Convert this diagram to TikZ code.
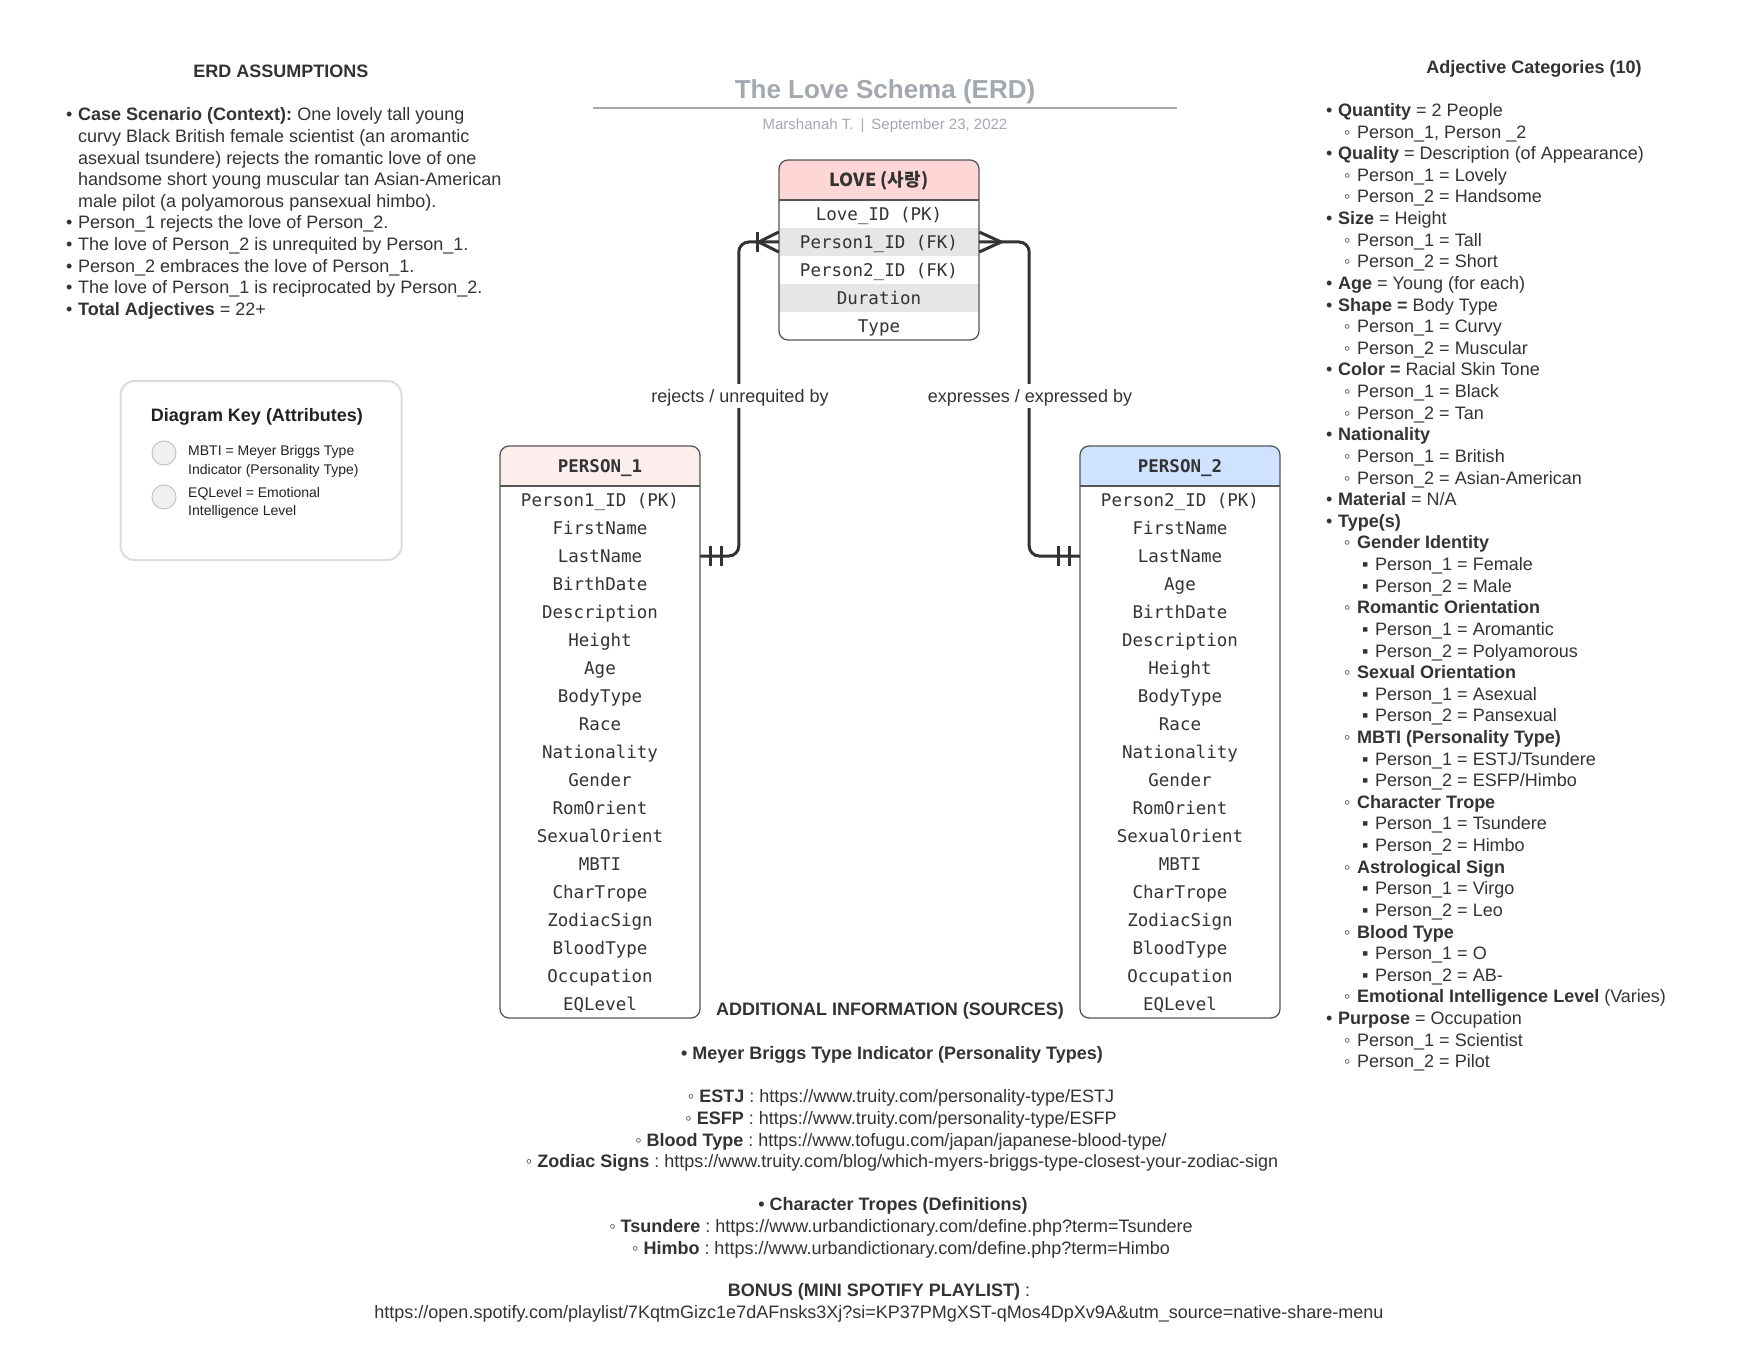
\documentclass[tikz,border=0pt]{standalone}
\usepackage{fontspec}
\setmainfont{Liberation Sans}
\newfontfamily\monof{DejaVu Sans Mono}
\newfontfamily\cjkf{Noto Sans CJK KR}
\usetikzlibrary{calc}
\definecolor{textc}{HTML}{333333}
\definecolor{keytextc}{HTML}{222222}
\definecolor{titlec}{HTML}{A3A8B1}
\definecolor{linec}{HTML}{333333}
\definecolor{borderc}{HTML}{555555}
\definecolor{lovehead}{HTML}{FFD6D6}
\definecolor{ponehead}{HTML}{FDEEEE}
\definecolor{ptwohead}{HTML}{CFE2FF}
\definecolor{rowgray}{HTML}{E6E6E6}
\definecolor{keyborder}{HTML}{DCDCDC}
\definecolor{keycircle}{HTML}{F0F0F2}
\definecolor{keycircleb}{HTML}{C4C4C4}
\newcommand\bulA{\makebox[12pt][l]{•}}
\newcommand\bulB{\makebox[13pt][l]{◦}}
\newcommand\bulC{\makebox[13pt][l]{▪}}
\frenchspacing
\begin{document}
\frenchspacing
\begin{tikzpicture}[x=1pt,y=-1pt,
  txt/.style={inner sep=0pt, anchor=base west, text=textc, font=\frenchspacing\fontsize{18}{21.7}\selectfont},
  ctxt/.style={txt, anchor=base},
  keytxt/.style={inner sep=0pt, anchor=base west, text=keytextc, font=\fontsize{14}{17}\selectfont},
  rowtxt/.style={inner sep=0pt, minimum width=200pt, minimum height=28pt, text height=12.8pt, text depth=0pt, text=textc, font=\monof\fontsize{17.5}{20}\selectfont},
  headtxt/.style={inner sep=0pt, text height=12.8pt, text depth=0pt, text=textc, font=\monof\bfseries\fontsize{17.5}{20}\selectfont},
  tabborder/.style={draw=borderc, line width=1.3pt},
  conn/.style={draw=linec, line width=3pt, rounded corners=10pt},
  tip/.style={draw=linec, line width=3pt, line cap=butt},
  rellabel/.style={fill=white, inner xsep=3pt, inner ysep=6pt, text height=12.9pt, text depth=0pt, text=textc, font=\fontsize{18}{21.7}\selectfont}
]
\fill[white] (0,0) rectangle (1759,1359);
\useasboundingbox (0,0) rectangle (1759,1359);

% ---------- title ----------
\node[ctxt, text=titlec, font=\bfseries\fontsize{26}{30}\selectfont] (title) at (885,99) {The Love Schema (ERD)};
\draw[draw=titlec, line width=2pt] (593,108) -- (1177,108);
\node[ctxt, text=titlec, font=\frenchspacing\fontsize{15}{18}\selectfont] (subtitle) at (885,129.5) {Marshanah T.\hspace{7pt}|\hspace{7pt}September 23, 2022};

% ---------- ERD assumptions ----------
\node[ctxt, font=\bfseries\fontsize{18}{21.7}\selectfont] (asshead) at (281,78) {ERD ASSUMPTIONS};
\node[txt] (a1) at (66,121) {\bulA\textbf{Case Scenario (Context):} One lovely tall young};
\node[txt] (a2) at (78,142.6) {curvy Black British female scientist (an aromantic};
\node[txt] (a3) at (78,164.2) {asexual tsundere) rejects the romantic love of one};
\node[txt] (a4) at (78,185.8) {handsome short young muscular tan Asian-American};
\node[txt] (a5) at (78,207.4) {male pilot (a polyamorous pansexual himbo).};
\node[txt] (a6) at (66,229) {\bulA Person\_1 rejects the love of Person\_2.};
\node[txt] (a7) at (66,250.6) {\bulA The love of Person\_2 is unrequited by Person\_1.};
\node[txt] (a8) at (66,272.2) {\bulA Person\_2 embraces the love of Person\_1.};
\node[txt] (a9) at (66,293.8) {\bulA The love of Person\_1 is reciprocated by Person\_2.};
\node[txt] (a10) at (66,315.4) {\bulA\textbf{Total Adjectives} = 22+};

% ---------- diagram key ----------
\node[draw=keyborder, line width=2pt, rounded corners=14pt, minimum width=281pt, minimum height=179pt, inner sep=0pt] (keybox) at (261,470.5) {};
\node[ctxt, text=keytextc, font=\bfseries\fontsize{18}{21.7}\selectfont] (keyhead) at (257,421) {Diagram Key (Attributes)};
\node[circle, draw=keycircleb, fill=keycircle, line width=1pt, minimum size=24pt, inner sep=0pt] (kc1) at (164,453) {};
\node[circle, draw=keycircleb, fill=keycircle, line width=1pt, minimum size=24pt, inner sep=0pt] (kc2) at (164,497) {};
\node[keytxt] (k1) at (188,455) {MBTI = Meyer Briggs Type};
\node[keytxt] (k2) at (188,474) {Indicator (Personality Type)};
\node[keytxt] (k3) at (188,497) {EQLevel = Emotional};
\node[keytxt] (k4) at (188,515) {Intelligence Level};

% ---------- LOVE table ----------
\fill[lovehead, rounded corners=9pt] (779,160) rectangle (979,200);
\fill[lovehead] (779,190) rectangle (979,200);
\fill[rowgray] (779,228) rectangle (979,256);
\fill[rowgray] (779,284) rectangle (979,312);
\draw[tabborder] (779,200) -- (979,200);
\draw[tabborder, rounded corners=9pt] (779,160) rectangle (979,340);
\node[inner sep=0pt, text height=13.2pt, text depth=0pt, text=textc, font=\cjkf\bfseries\fontsize{18}{20}\selectfont] (loveh) at (879,180) {LOVE (사랑)};
\foreach \t [count=\i] in {Love\_ID (PK), Person1\_ID (FK), Person2\_ID (FK), Duration, Type}
  \node[rowtxt] (love\i) at (879,{186+28*\i}) {\t};

% ---------- PERSON_1 table ----------
\fill[ponehead, rounded corners=9pt] (500,446) rectangle (700,486);
\fill[ponehead] (500,476) rectangle (700,486);
\draw[tabborder] (500,486) -- (700,486);
\draw[tabborder, rounded corners=9pt] (500,446) rectangle (700,1018);
\node[headtxt] (p1h) at (600,466) {PERSON\_1};
\foreach \t [count=\i] in {Person1\_ID (PK), FirstName, LastName, BirthDate, Description, Height, Age, BodyType, Race, Nationality, Gender, RomOrient, SexualOrient, MBTI, CharTrope, ZodiacSign, BloodType, Occupation, EQLevel}
  \node[rowtxt] (p1r\i) at (600,{472+28*\i}) {\t};

% ---------- PERSON_2 table ----------
\fill[ptwohead, rounded corners=9pt] (1080,446) rectangle (1280,486);
\fill[ptwohead] (1080,476) rectangle (1280,486);
\draw[tabborder] (1080,486) -- (1280,486);
\draw[tabborder, rounded corners=9pt] (1080,446) rectangle (1280,1018);
\node[headtxt] (p2h) at (1180,466) {PERSON\_2};
\foreach \t [count=\i] in {Person2\_ID (PK), FirstName, LastName, Age, BirthDate, Description, Height, BodyType, Race, Nationality, Gender, RomOrient, SexualOrient, MBTI, CharTrope, ZodiacSign, BloodType, Occupation, EQLevel}
  \node[rowtxt] (p2r\i) at (1180,{472+28*\i}) {\t};

% ---------- connectors ----------
\draw[conn] (love2.west) -- ++(-40,0) |- (p1r3.east);
\draw[conn] (love2.east) -- ++(50,0) |- (p2r3.west);
% one-or-many at LOVE (left)
\draw[tip] ($(love2.west)+(0,-10)$) -- ($(love2.west)+(-20,0)$) -- ($(love2.west)+(0,10)$);
\draw[tip] ($(love2.west)+(-21,-10)$) -- ($(love2.west)+(-21,10)$);
% many at LOVE (right)
\draw[tip] ($(love2.east)+(0,-10)$) -- ($(love2.east)+(22,0)$) -- ($(love2.east)+(0,10)$);
% one-and-only-one at PERSON_1
\draw[tip] ($(p1r3.east)+(10,-10)$) -- ($(p1r3.east)+(10,10)$);
\draw[tip] ($(p1r3.east)+(21,-10)$) -- ($(p1r3.east)+(21,10)$);
% one-and-only-one at PERSON_2
\draw[tip] ($(p2r3.west)+(-10,-10)$) -- ($(p2r3.west)+(-10,10)$);
\draw[tip] ($(p2r3.west)+(-21,-10)$) -- ($(p2r3.west)+(-21,10)$);
\node[rellabel] (rel1) at (740,396) {rejects / unrequited by};
\node[rellabel] (rel2) at (1030,396) {expresses / expressed by};

% ---------- Adjective categories ----------
\node[ctxt, font=\bfseries\fontsize{18}{21.7}\selectfont] (adjhead) at (1534,73.5) {Adjective Categories (10)};
\foreach \lev/\t [count=\i] in {
  1/{\textbf{Quantity} = 2 People},
  2/{Person\_1, Person \_2},
  1/{\textbf{Quality} = Description (of Appearance)},
  2/{Person\_1 = Lovely},
  2/{Person\_2 = Handsome},
  1/{\textbf{Size} = Height},
  2/{Person\_1 = Tall},
  2/{Person\_2 = Short},
  1/{\textbf{Age} = Young (for each)},
  1/{\textbf{Shape =} Body Type},
  2/{Person\_1 = Curvy},
  2/{Person\_2 = Muscular},
  1/{\textbf{Color =} Racial Skin Tone},
  2/{Person\_1 = Black},
  2/{Person\_2 = Tan},
  1/{\textbf{Nationality}},
  2/{Person\_1 = British},
  2/{Person\_2 = Asian-American},
  1/{\textbf{Material} = N/A},
  1/{\textbf{Type(s)}},
  2/{\textbf{Gender Identity}},
  3/{Person\_1 = Female},
  3/{Person\_2 = Male},
  2/{\textbf{Romantic Orientation}},
  3/{Person\_1 = Aromantic},
  3/{Person\_2 = Polyamorous},
  2/{\textbf{Sexual Orientation}},
  3/{Person\_1 = Asexual},
  3/{Person\_2 = Pansexual},
  2/{\textbf{MBTI (Personality Type)}},
  3/{Person\_1 = ESTJ/Tsundere},
  3/{Person\_2 = ESFP/Himbo},
  2/{\textbf{Character Trope}},
  3/{Person\_1 = Tsundere},
  3/{Person\_2 = Himbo},
  2/{\textbf{Astrological Sign}},
  3/{Person\_1 = Virgo},
  3/{Person\_2 = Leo},
  2/{\textbf{Blood Type}},
  3/{Person\_1 = O},
  3/{Person\_2 = AB-},
  2/{\textbf{Emotional Intelligence Level} (Varies)},
  1/{\textbf{Purpose} = Occupation},
  2/{Person\_1 = Scientist},
  2/{Person\_2 = Pilot}}
  \node[txt] (adj\i) at ({1326+18*(\lev-1)},{116.5+21.62*(\i-1)}) {\ifcase\lev\or\bulA\or\bulB\or\bulC\fi\t};

% ---------- additional information ----------
\node[ctxt, font=\bfseries\fontsize{18}{21.7}\selectfont] (b1) at (890,1015) {ADDITIONAL INFORMATION (SOURCES)};
\node[ctxt, font=\bfseries\fontsize{18}{21.7}\selectfont] (b2) at (892,1059) {• Meyer Briggs Type Indicator (Personality Types)};
\node[ctxt] (b3) at (901,1102) {◦ \textbf{ESTJ} : https://www.truity.com/personality-type/ESTJ};
\node[ctxt] (b4) at (901,1124) {◦ \textbf{ESFP} : https://www.truity.com/personality-type/ESFP};
\node[ctxt] (b5) at (901,1146) {◦ \textbf{Blood Type} : https://www.tofugu.com/japan/japanese-blood-type/};
\node[ctxt] (b6) at (902,1167) {◦ \textbf{Zodiac Signs} : https://www.truity.com/blog/which-myers-briggs-type-closest-your-zodiac-sign};
\node[ctxt, font=\bfseries\fontsize{18}{21.7}\selectfont] (b7) at (893,1210) {• Character Tropes (Definitions)};
\node[ctxt] (b8) at (901,1232) {◦ \textbf{Tsundere} : https://www.urbandictionary.com/define.php?term=Tsundere};
\node[ctxt] (b9) at (901,1254) {◦ \textbf{Himbo} : https://www.urbandictionary.com/define.php?term=Himbo};
\node[ctxt] (b10) at (879,1296) {\textbf{BONUS (MINI SPOTIFY PLAYLIST)} :};
\node[ctxt] (b11) at (879,1318) {https://open.spotify.com/playlist/7KqtmGizc1e7dAFnsks3Xj?si=KP37PMgXST-qMos4DpXv9A\&utm\_source=native-share-menu};
\end{tikzpicture}
\end{document}
